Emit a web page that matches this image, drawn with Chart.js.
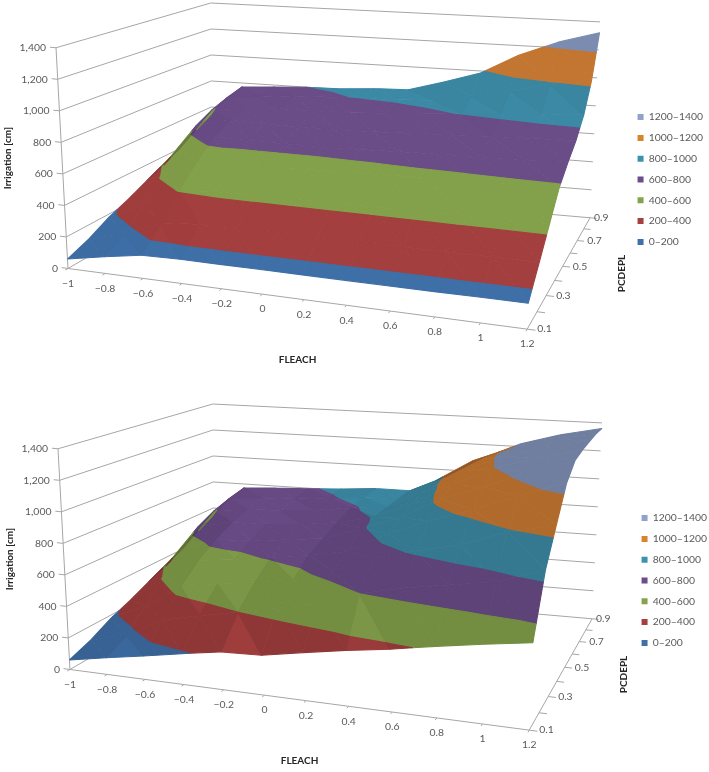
<!DOCTYPE html>
<html><head><meta charset="utf-8">
<style>html,body{margin:0;padding:0;background:#fff;overflow:hidden;width:709px;height:772px}
canvas{position:absolute;left:0;filter:blur(0.35px)}</style>
<script src="https://cdn.jsdelivr.net/npm/chart.js@4"></script>
</head><body>
<canvas id="c1" width="713" height="385" style="top:-13px"></canvas>
<canvas id="c2" width="717" height="383" style="top:389px"></canvas>
<script>
// ---------- data ----------
const fleach = [-1,-0.8,-0.6,-0.4,-0.2,0,0.2,0.4,0.6,0.8,1,1.2];
const pcdepl = [0.1,0.2,0.3,0.4,0.5,0.6,0.7,0.8,0.9];
// top surface: one row per PCDEPL value, one column per FLEACH value
const topP1 = [60,105,145,150,150,150,150,150,150,150,152,152];
const topP2 = [110,170,270,290,292,293,294,295,295,296,297,298];
const topP3 = [180,290,410,425,428,430,432,434,437,439,441,444];
const topP4 = [230,420,530,548,550,552,558,565,572,578,584,589];
const topP5 = [290,540,640,636,636,637,642,650,656,662,668,675];
const topP6 = [340,640,700,690,693,695,700,710,722,732,740,749];
const topP7 = [400,700,730,745,750,753,770,785,805,825,845,856];
const topP8 = [480,740,760,785,795,803,810,825,870,930,990,1032];
const topP9 = [560,770,785,800,805,822,830,904,985,1130,1240,1322];
// bottom surface
const botP1 = [60,105,146,191,233,243,291,336,375,425,470,513];
const botP2 = [110,170,295,350,400,457,508,600,663,710,757,860];
const botP3 = [180,290,440,480,515,560,640,745,820,885,990,1060];
const botP4 = [230,420,550,575,610,650,700,840,945,1040,1150,1255];
const botP5 = [290,540,630,640,670,700,790,885,1030,1130,1240,1345];
const botP6 = [340,640,690,695,715,750,808,925,1065,1200,1280,1360];
const botP7 = [400,700,730,740,760,795,818,950,1110,1230,1310,1365];
const botP8 = [480,740,760,770,795,815,825,970,1130,1240,1320,1368];
const botP9 = [560,770,785,795,810,830,830,945,1100,1220,1300,1360];
const zTicks = [0,200,400,600,800,1000,1200,1400];
const zLabels = ['0','200','400','600','800','1,000','1,200','1,400'];
const xLabels = ['\u22121','\u22120.8','\u22120.6','\u22120.4','\u22120.2','0','0.2','0.4','0.6','0.8','1','1.2'];
const pLabels = ['0.1','','0.3','','0.5','','0.7','','0.9'];
const pLabelGap = [10,0,10,0,10,0,10,0,4];
const bandNames = ['0\u2013200','200\u2013400','400\u2013600','600\u2013800','800\u20131000','1000\u20131200','1200\u20131400'];
const bandColors = ['#3e6fa7','#a33f3e','#83a04a','#6a4c87','#3c89a5','#c87a32','#7f90b5'];
const legendColors = ['#3f70aa','#a5403e','#85a34b','#6b4d8d','#3a93ac','#d6842e','#8fa2cb'];
const tonesTop = [1,0.99,0.97,0.75];
const tonesBottom = [0.97,0.94,0.88,0.74];
const foldColor = 'rgba(35,20,40,0.24)';
const gridColor = '#a6a6a6';
const textColor = '#595959';
const fontFamily = 'Lato, "Open Sans", sans-serif';

// ---------- view (shared projection) ----------
const floorCorners = [[67,269],[527,330],[590,218],[211,185]];
const roofCorners  = [[55,47],[537,90],[600,21],[210,2]];
function quadMap(q){
  const [[x0,y0],[x1,y1],[x2,y2],[x3,y3]] = q;
  const dx1=x1-x2,dx2=x3-x2,sx=x0-x1+x2-x3,dy1=y1-y2,dy2=y3-y2,sy=y0-y1+y2-y3;
  const d=dx1*dy2-dx2*dy1;
  const g=(sx*dy2-dx2*sy)/d,h=(dx1*sy-sx*dy1)/d;
  const a=x1-x0+g*x1,b=x3-x0+h*x3,e=y1-y0+g*y1,f=y3-y0+h*y3;
  return (u,v)=>{const w=g*u+h*v+1;return [(a*u+b*v+x0)/w,(e*u+f*v+y0)/w];};
}
const floorMap=quadMap(floorCorners), roofMap=quadMap(roofCorners);
const U=x=>{const u=(x+1)/2.2;return u+0.07*u*(1-u);}, V=p=>(p-0.1)/0.8;
function project(x,p,z){
  const a=floorMap(U(x),V(p)), b=roofMap(U(x),V(p)), f=z/1400;
  return [a[0]+(b[0]-a[0])*f, a[1]+(b[1]-a[1])*f];
}
function shade(hex,k){
  const n=parseInt(hex.slice(1),16);
  return 'rgb('+[n>>16,(n>>8)&255,n&255].map(c=>Math.round(c*k)).join(',')+')';
}
function clipZ(poly,lim,keepAbove){
  const out=[];
  for(let i=0;i<poly.length;i++){
    const a=poly[i],b=poly[(i+1)%poly.length];
    const ina=keepAbove?a[2]>=lim:a[2]<=lim, inb=keepAbove?b[2]>=lim:b[2]<=lim;
    if(ina) out.push(a);
    if(ina!==inb){const t=(lim-a[2])/(b[2]-a[2]);out.push([a[0]+(b[0]-a[0])*t,a[1]+(b[1]-a[1])*t,lim]);}
  }
  return out;
}
function makePanel(id,rows,tones,ox,oy){
  const tp=t=>{const q=project(t[0],t[1],t[2]);return {x:q[0]+ox,y:q[1]+oy};};
  const bins=bandNames.map(()=>tones.map(()=>[]));
  const folds=[];
  const push=(arr,poly)=>{poly.forEach(v=>arr.push(tp(v)));arr.push(tp(poly[0]));arr.push({x:null,y:null});};
  const addTri=(a,b,c,edge)=>{
    const fa=floorMap(U(a[0]),V(a[1])),fb=floorMap(U(b[0]),V(b[1])),fc=floorMap(U(c[0]),V(c[1]));
    const sa=project(...a),sb=project(...b),sc=project(...c);
    const area=(p,q,r)=>(q[0]-p[0])*(r[1]-p[1])-(q[1]-p[1])*(r[0]-p[0]);
    const back=area(fa,fb,fc)*area(sa,sb,sc)<0;
    const m=[[a[0],a[1],1],[b[0],b[1],1],[c[0],c[1],1]];
    const det=m[0][0]*(m[1][1]-m[2][1])-m[0][1]*(m[1][0]-m[2][0])+(m[1][0]*m[2][1]-m[2][0]*m[1][1]);
    const gx=(a[2]*(m[1][1]-m[2][1])-m[0][1]*(b[2]-c[2])+(b[2]*m[2][1]-c[2]*m[1][1]))/det*0.2;
    const tone=back?3:(Math.abs(gx)<20?0:(Math.abs(gx)<42?1:2));
    bandNames.forEach((_,k)=>{
      let poly=clipZ([a,b,c],k*200,true);
      if(poly.length) poly=clipZ(poly,(k+1)*200,false);
      if(poly.length<3) return;
      push(bins[k][tone],poly);
    });
    if(back){
      const poly=edge?clipZ([a,b,c],560,false):[a,b,c];
      if(poly.length>=3) push(folds,poly);
    }
  };
  for(let j=0;j<pcdepl.length-1;j++) for(let i=0;i<fleach.length-1;i++){
    const A=[fleach[i],pcdepl[j],rows[j][i]],B=[fleach[i+1],pcdepl[j],rows[j][i+1]];
    const C=[fleach[i+1],pcdepl[j+1],rows[j+1][i+1]],D=[fleach[i],pcdepl[j+1],rows[j+1][i]];
    addTri(A,B,D,i===0); addTri(B,C,D,i===0);
  }
  const solid=(label,data,col,w)=>({label,data,fill:'shape',backgroundColor:col,borderColor:col,borderWidth:w,borderJoinStyle:'round',pointRadius:0,tension:0,spanGaps:false});
  const datasets=[solid('folds',folds,foldColor,0)];
  bandNames.forEach((name,k)=>{
    [2,1,0].forEach(t=>datasets.push(solid(name,bins[k][t],shade(bandColors[k],tones[t]),1.1)));
  });
  bandNames.forEach((name,k)=>datasets.push(solid(name,bins[k][3],shade(bandColors[k],tones[3]),1.1)));
  const gaps=[];
  const seg=(p,q)=>{gaps.push(tp(p),tp(q),{x:null,y:null});};
  const x0=fleach[0],x1=fleach[fleach.length-1],p0=pcdepl[0],p1=pcdepl[pcdepl.length-1];
  zTicks.forEach(z=>{seg([x0,p0,z],[x0,p1,z]);seg([x0,p1,z],[x1,p1,z]);seg([x0,p0,z],[x0-0.035,p0,z]);});
  seg([x0,p0,0],[x0,p0,1400]);seg([x0,p0,0],[x1,p0,0]);seg([x1,p0,0],[x1,p1,0]);
  fleach.forEach(x=>seg([x,p0,0],[x,p0-0.012,0]));
  pcdepl.forEach(p=>seg([x1,p,0],[x1+0.035,p,0]));
  datasets.push({label:'axes',data:gaps,borderColor:gridColor,backgroundColor:gridColor,borderWidth:1,fill:false,pointRadius:0,tension:0,spanGaps:false});

  const labelsPlugin={id:'axisText',afterDraw(ch){
    const c=ch.ctx,sx=ch.scales.x,sy=ch.scales.y;
    const put=(s,px,py,al,font,col,rot)=>{
      c.save();c.translate(sx.getPixelForValue(px),sy.getPixelForValue(py));
      if(rot)c.rotate(rot);c.font=font;c.fillStyle=col;c.textAlign=al;c.textBaseline='middle';c.fillText(s,0,0);c.restore();
    };
    const small='10.4px '+fontFamily,bold='bold 10px '+fontFamily;
    zTicks.forEach((z,i)=>{const q=project(x0,p0,z);put(zLabels[i],q[0]+ox-10,q[1]+oy,'right',small,textColor);});
    fleach.forEach((x,i)=>{const q=project(x,p0,0);put(xLabels[i],q[0]+ox,q[1]+oy+15,'center',small,textColor);});
    pcdepl.forEach((p,i)=>{if(!pLabels[i])return;const q=project(x1,p,0);put(pLabels[i],q[0]+ox+pLabelGap[i],q[1]+oy,'left',small,textColor);});
    put('FLEACH',297+ox,361+oy,'center',bold,'#262626');
    put('PCDEPL',622+ox,274+oy,'center',bold,'#262626',-Math.PI/2);
    put('Irrigation [cm]',8+ox-1,158+oy,'center',bold,'#262626',-Math.PI/2);
  }};
  const cv=document.getElementById(id);
  const chart=new Chart(cv,{type:'line',data:{datasets},plugins:[labelsPlugin],options:{
    responsive:false,animation:false,events:[],
    scales:{x:{type:'linear',display:false,min:0,max:600},y:{type:'linear',display:false,reverse:true,min:0,max:380}},
    plugins:{tooltip:{enabled:false},title:{display:false},
      legend:{display:true,position:'right',onClick:null,labels:{boxWidth:6,boxHeight:6,padding:10.4,color:textColor,font:{size:10.4,family:fontFamily},
        generateLabels:()=>bandNames.map((n,k)=>({text:n,fillStyle:legendColors[k],strokeStyle:legendColors[k],lineWidth:0,hidden:false,fontColor:textColor})).reverse()}}}
  }});
  const a=chart.chartArea;
  chart.options.scales.x.max=a.right;chart.options.scales.y.max=a.bottom;
  chart.update('none');
  return chart;
}
makePanel('c1',[topP1,topP2,topP3,topP4,topP5,topP6,topP7,topP8,topP9],tonesTop,0,13);
makePanel('c2',[botP1,botP2,botP3,botP4,botP5,botP6,botP7,botP8,botP9],tonesBottom,2,12);
</script>
</body></html>
